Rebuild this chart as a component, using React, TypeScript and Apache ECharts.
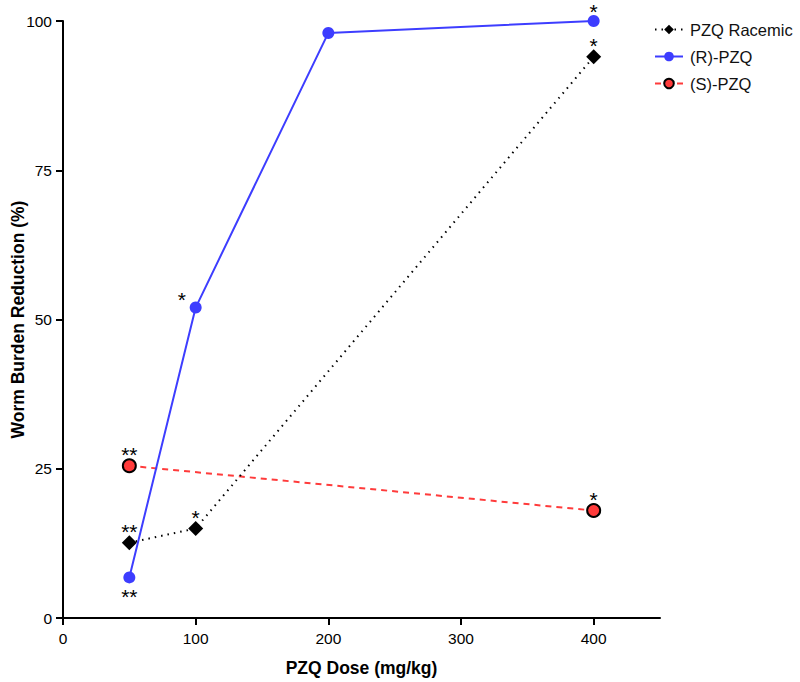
import React, { useEffect, useRef } from "react";
import * as echarts from "echarts";

const racemicDoses = [50, 100, 400];
const racemicValues = [12.6, 15, 94];
const racemicStars = ["**", "*", "*"];
const rDoses = [50, 100, 200, 400];
const rValues = [6.8, 52, 98, 100];
const rStars = ["**", "*", "", "*"];
const rStarPos = ["bottom", "left", "top", "top"];
const sDoses = [50, 400];
const sValues = [25.5, 18];
const sStars = ["**", "*"];
const xTicks = [0, 100, 200, 300, 400];
const yTicks = [0, 25, 50, 75, 100];

const FONT = "Liberation Sans, Arial, sans-serif";

function starLabel(text: string, pos: string) {
  const base: any = {
    show: text !== "",
    formatter: text,
    position: pos,
    color: "#000",
    fontFamily: FONT,
    fontSize: 21,
    lineHeight: 21,
    distance: 2,
    offset: [0, 9],
  };
  if (pos === "bottom") {
    base.offset = [0, 0];
    base.distance = 3;
  }
  if (pos === "left") {
    base.position = [-12, -13];
    base.offset = [0, 0];
  }
  return base;
}

export default function App() {
  const ref = useRef<HTMLDivElement>(null);
  useEffect(() => {
    if (!ref.current) return;
    const chart = echarts.init(ref.current, null, { renderer: "svg" });
    const axisStyle = { lineStyle: { color: "#000", width: 2 } };
    const nameStyle = { fontSize: 17.5, fontWeight: "bold", color: "#000", fontFamily: FONT };
    chart.setOption({
      animation: false,
      backgroundColor: "#fff",
      textStyle: { fontFamily: FONT },
      grid: {
        left: 63,
        right: 140,
        top: 21,
        bottom: 64,
        containLabel: false,
        outerBoundsMode: "none",
      },
      legend: {
        orient: "vertical",
        left: 649,
        top: 16,
        itemWidth: 28,
        itemHeight: 12,
        itemGap: 10,
        textStyle: { fontSize: 16.5, color: "#111", fontFamily: FONT, padding: [0, 0, 0, 2] },
        data: ["PZQ Racemic", "(R)-PZQ", "(S)-PZQ"],
      },
      xAxis: {
        type: "value",
        min: 0,
        max: 450,
        interval: 100,
        name: "PZQ Dose (mg/kg)",
        nameLocation: "middle",
        nameGap: 41,
        nameMoveOverlap: false,
        nameTextStyle: nameStyle,
        axisLine: { show: true, onZero: false, ...axisStyle },
        axisTick: { show: true, length: 7, lineStyle: { color: "#000", width: 2 } },
        axisLabel: {
          fontSize: 15.5,
          color: "#000",
          margin: 12,
          showMaxLabel: false,
          formatter: (v: number) => (xTicks.includes(v) ? String(v) : ""),
        },
        splitLine: { show: false },
      },
      yAxis: {
        type: "value",
        min: 0,
        max: 100,
        interval: 25,
        name: "Worm Burden Reduction (%)",
        nameLocation: "middle",
        nameGap: 36,
        nameMoveOverlap: false,
        nameTextStyle: nameStyle,
        axisLine: { show: true, onZero: false, ...axisStyle },
        axisTick: { show: true, length: 7, lineStyle: { color: "#000", width: 2 } },
        axisLabel: {
          fontSize: 15.5,
          color: "#000",
          margin: 11,
          formatter: (v: number) => (yTicks.includes(v) ? String(v) : ""),
        },
        splitLine: { show: false },
      },
      series: [
        {
          name: "PZQ Racemic",
          type: "line",
          z: 3,
          symbol: "diamond",
          symbolSize: 15,
          itemStyle: { color: "#000" },
          lineStyle: { color: "#000", width: 2, type: [1.5, 5] },
          data: racemicDoses.map((d, i) => ({
            value: [d, racemicValues[i]],
            label: starLabel(racemicStars[i], "top"),
          })),
        },
        {
          name: "(R)-PZQ",
          type: "line",
          z: 4,
          symbol: "circle",
          symbolSize: 12,
          itemStyle: { color: "#3d3dff" },
          lineStyle: { color: "#3d3dff", width: 2 },
          data: rDoses.map((d, i) => ({
            value: [d, rValues[i]],
            label: starLabel(rStars[i], rStarPos[i]),
          })),
        },
        {
          name: "(S)-PZQ",
          type: "line",
          z: 2,
          symbol: "circle",
          symbolSize: 13,
          itemStyle: { color: "#ff3b3b", borderColor: "#000", borderWidth: 2 },
          lineStyle: { color: "#ff3b3b", width: 2, type: [6, 5] },
          data: sDoses.map((d, i) => ({
            value: [d, sValues[i]],
            label: starLabel(sStars[i], "top"),
          })),
        },
      ],
    });
    return () => chart.dispose();
  }, []);
  return <div ref={ref} style={{ width: 800, height: 682, position: "absolute", left: 0, top: 0 }} />;
}
